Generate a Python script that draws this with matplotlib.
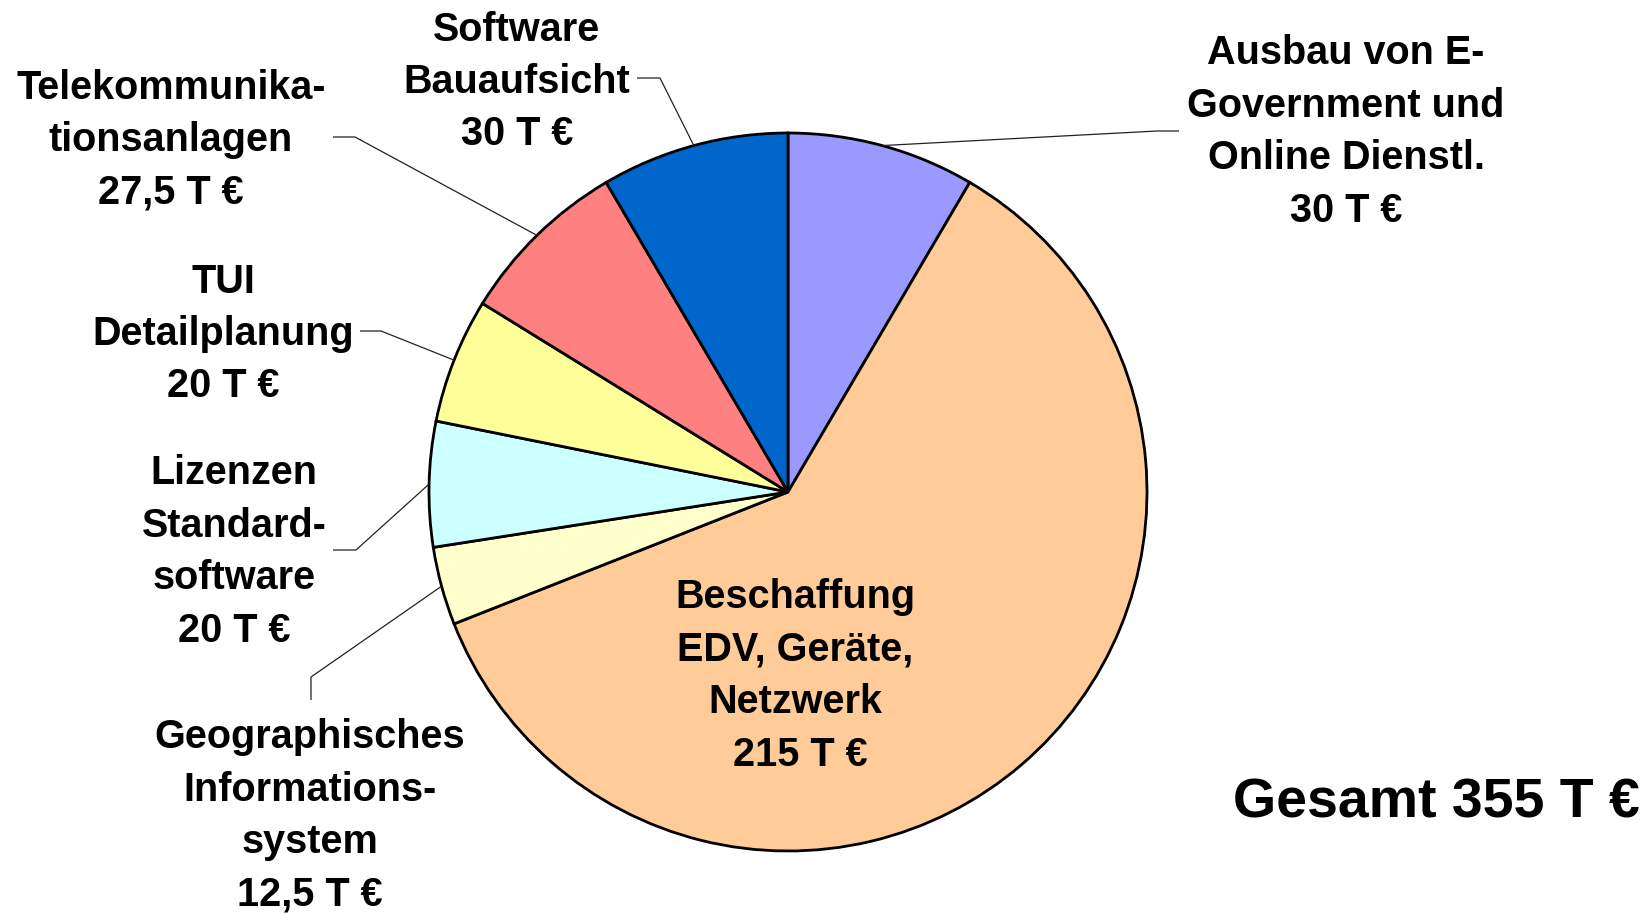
import numpy as np
import matplotlib.pyplot as plt

labels = ['Ausbau von E-\nGovernment und\nOnline Dienstl.',
          'Beschaffung\nEDV, Geräte,\nNetzwerk',
          'Geographisches\nInformations-\nsystem',
          'Lizenzen\nStandard-\nsoftware',
          'TUI\nDetailplanung',
          'Telekommunika-\ntionsanlagen',
          'Software\nBauaufsicht']
values = [30, 215, 12.5, 20, 20, 27.5, 30]
valueLabels = ['30 T €', ' 215 T €', '12,5 T €', '20 T €', '20 T €', '27,5 T €', '30 T €']
colors = ['#9999FF', '#FFCC99', '#FFFFCC', '#CCFFFF', '#FFFF99', '#FF8080', '#0066CC']
total = 355

W, H = 1652, 914

def Y(y):
    # pixel rows from the top -> data y
    return H - y

plt.rcParams['font.family'] = ['Liberation Sans', 'DejaVu Sans']
plt.rcParams['font.weight'] = 'bold'

fig = plt.figure(figsize=(W / 100, H / 100), dpi=100)
ax = fig.add_axes([0, 0, 1, 1])

cx, cy, r = 788, Y(492), 359
wedges, _ = ax.pie(values, colors=colors, startangle=90, counterclock=False,
                   center=(cx, cy), radius=r, frame=True,
                   wedgeprops=dict(edgecolor='black', linewidth=2))
ax.set_xlim(0, W)
ax.set_ylim(0, H)
ax.set_aspect('equal')
ax.axis('off')

# label block centres (x, y from top) and leader line points near the text
textPos = [(1346, 132), (795, 676), (310, 816), (234, 552), (223, 334), (171, 140), (517, 82)]
leaders = [[(1157, 131), (1179, 131)],
           None,
           [(311, 677), (311, 700)],
           [(356, 550), (333, 550)],
           [(381, 331), (360, 331)],
           [(355, 137), (333, 137)],
           [(660, 78), (637, 78)]]

fs = 28.5
for w, lab, val, pos, ld in zip(wedges, labels, valueLabels, textPos, leaders):
    ax.text(pos[0], Y(pos[1]), lab + '\n' + val, ha='center', va='center',
            fontsize=fs, fontweight='bold', linespacing=1.48)
    if ld is not None:
        mid = np.deg2rad((w.theta1 + w.theta2) / 2)
        px = cx + r * np.cos(mid)
        py = cy + r * np.sin(mid)
        xs = [px] + [p[0] for p in ld]
        ys = [py] + [Y(p[1]) for p in ld]
        ax.plot(xs, ys, color='#222222', linewidth=0.9, solid_capstyle='butt')

ax.text(1640, Y(804), f'Gesamt {total} T €', ha='right', va='center',
        fontsize=40, fontweight='bold')

plt.savefig('out.png', dpi=100)
plt.close()
